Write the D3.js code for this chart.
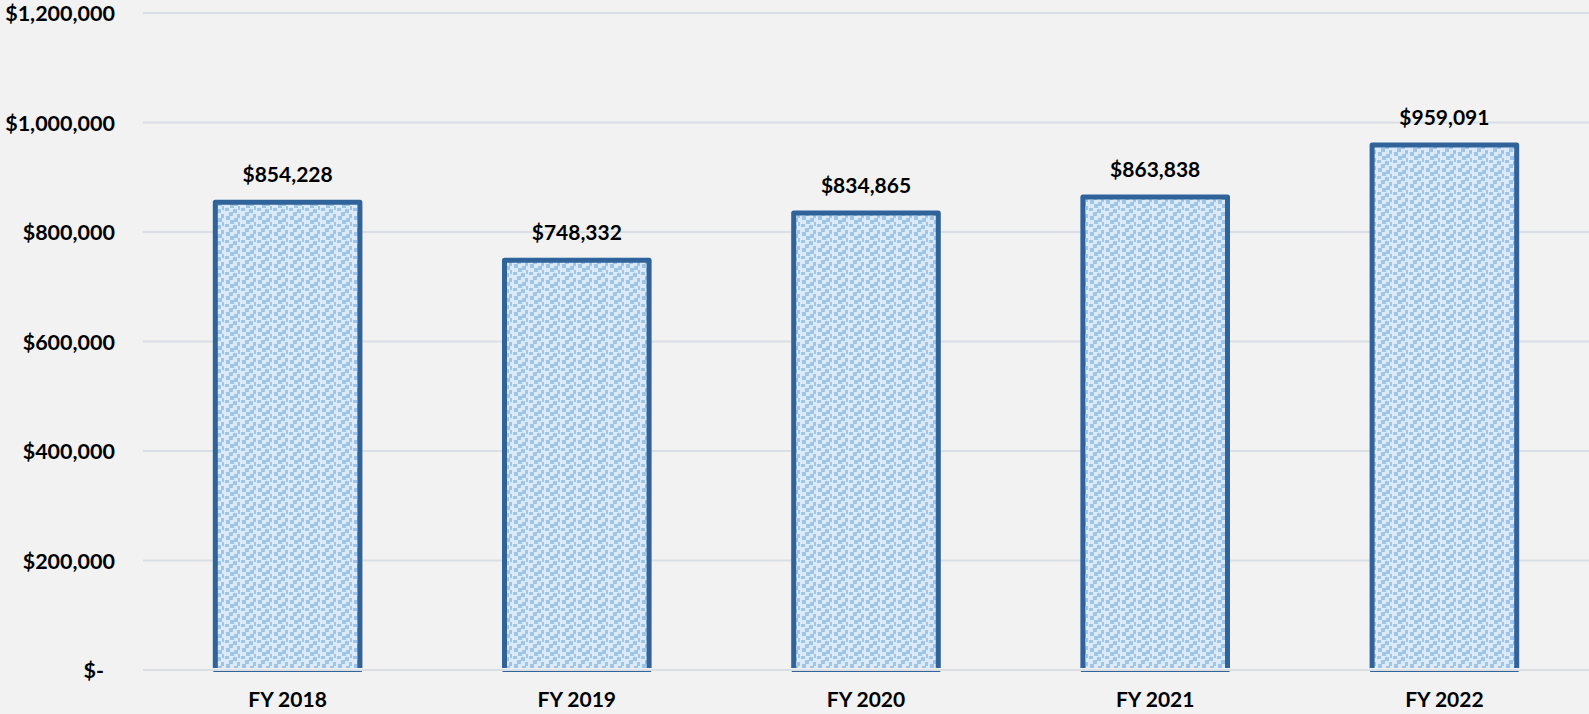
<!DOCTYPE html>
<html>
<head>
<meta charset="utf-8">
<script src="https://cdn.jsdelivr.net/npm/d3@7"></script>
<style>
  html, body { margin: 0; padding: 0; background: #f2f2f2; }
  #chart { width: 1589px; height: 714px; }
  text { font-family: Lato, "Open Sans", sans-serif; font-weight: 700; fill: #000; }
</style>
</head>
<body>
<div id="chart"></div>
<script>
"use strict";

const years = ["FY 2018", "FY 2019", "FY 2020", "FY 2021", "FY 2022"];
const totals = [854228, 748332, 834865, 863838, 959091];
const yTicks = [0, 200000, 400000, 600000, 800000, 1000000, 1200000];

const W = 1589, H = 714;
const margin = { left: 143, right: 0, top: 13, bottom: 44 };

function money(v) {
  if (v === 0) return "$-";
  return "$" + d3.format(",")(v);
}

function draw() {
  const svg = d3.select("#chart").append("svg")
    .attr("width", W)
    .attr("height", H);

  // confetti fill like the excel pattern
  const defs = svg.append("defs");
  const pat = defs.append("pattern")
    .attr("id", "confetti")
    .attr("patternUnits", "userSpaceOnUse")
    .attr("width", 16)
    .attr("height", 16);
  pat.append("rect").attr("width", 16).attr("height", 16).attr("fill", "#dce9f7");
  const dots = [[1, 0], [9, 2], [5, 5], [13, 7], [2, 9], [10, 11], [6, 13], [14, 15]];
  pat.selectAll("rect.d").data(dots).enter().append("rect")
    .attr("class", "d")
    .attr("x", (d) => d[0])
    .attr("y", (d) => d[1] - 1)
    .attr("width", 4)
    .attr("height", 4)
    .attr("fill", "#9ec4e8");
  // wrap the squares that cross the tile edge
  pat.append("rect").attr("x", 14).attr("y", -2).attr("width", 4).attr("height", 4).attr("fill", "#9ec4e8");

  const x = d3.scaleBand()
    .domain(years)
    .range([margin.left, W - margin.right])
    .paddingInner(0.5)
    .paddingOuter(0.25);

  const y = d3.scaleLinear()
    .domain([0, 1200000])
    .range([H - margin.bottom, margin.top]);

  // gridlines
  svg.append("g")
    .selectAll("line")
    .data(yTicks)
    .enter()
    .append("line")
    .attr("x1", margin.left)
    .attr("x2", W - margin.right)
    .attr("y1", (d) => y(d))
    .attr("y2", (d) => y(d))
    .attr("stroke", "#dadfe6")
    .attr("stroke-width", 2);

  // y axis labels
  const yAxis = svg.append("g")
    .attr("transform", `translate(${margin.left - 28},0)`)
    .call(d3.axisLeft(y).tickValues(yTicks).tickFormat(money).tickSize(0).tickPadding(0));
  yAxis.select(".domain").remove();
  yAxis.selectAll("text")
    .style("font-size", "21.5px")
    .attr("dy", "0.35em")
    .attr("dx", (d) => (d === 0 ? -11 : 0));

  // bars
  const bars = svg.append("g");
  const y0 = y(0);
  bars.selectAll("rect")
    .data(totals)
    .enter()
    .append("rect")
    .attr("x", (d, i) => x(years[i]))
    .attr("y", (d) => y(d))
    .attr("width", x.bandwidth())
    .attr("height", (d) => y0 - y(d) - 2)
    .attr("fill", "url(#confetti)");

  bars.selectAll("path")
    .data(totals)
    .enter()
    .append("path")
    .attr("d", (d, i) => {
      const x0 = x(years[i]), x1 = x0 + x.bandwidth();
      return `M${x0},${y0 - 2}L${x0},${y(d)}L${x1},${y(d)}L${x1},${y0 - 2}`;
    })
    .attr("fill", "none")
    .attr("stroke", "#2f6399")
    .attr("stroke-width", 5)
    .attr("stroke-linejoin", "round");

  bars.selectAll("line")
    .data(totals)
    .enter()
    .append("line")
    .attr("x1", (d, i) => x(years[i]) - 2)
    .attr("x2", (d, i) => x(years[i]) + x.bandwidth() + 2)
    .attr("y1", y0 + 1.5)
    .attr("y2", y0 + 1.5)
    .attr("stroke", "#2f6399")
    .attr("stroke-width", 1.2);

  // value labels
  svg.append("g")
    .selectAll("text")
    .data(totals)
    .enter()
    .append("text")
    .attr("x", (d, i) => x(years[i]) + x.bandwidth() / 2)
    .attr("y", (d) => y(d) - 20)
    .attr("text-anchor", "middle")
    .style("font-size", "21px")
    .text(money);

  // x axis labels
  const xAxis = svg.append("g")
    .attr("transform", `translate(0,${y0})`)
    .call(d3.axisBottom(x).tickSize(0).tickPadding(0));
  xAxis.select(".domain").remove();
  xAxis.selectAll("text")
    .attr("dy", 0)
    .attr("y", 37)
    .style("font-size", "21px");
}

draw();
</script>
</body>
</html>
